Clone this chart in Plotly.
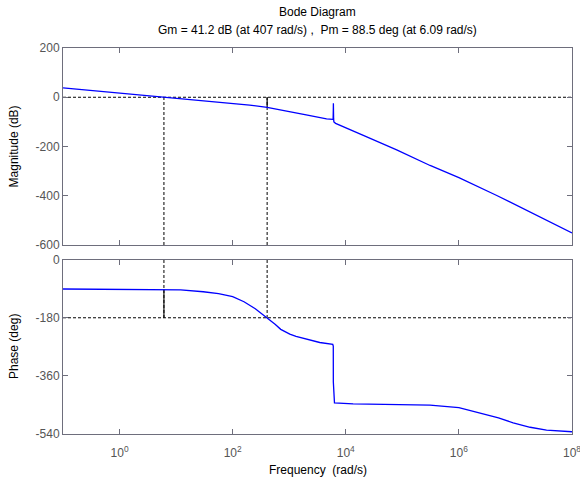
import numpy as np
import plotly.graph_objects as go

# ---- data ----
mag_logw = [-1.0, -0.48, 0.13, 0.785, 1.30, 1.894, 2.3, 2.61, 2.85, 3.07, 3.30, 3.50, 3.66,
            3.77, 3.776, 3.779, 3.781, 3.783, 3.785, 3.79, 3.82, 4.31, 4.90, 5.49, 6.0,
            6.67, 7.26, 8.0]
mag_db = [38, 27, 14, 0, -10.8, -24, -32, -41.2, -50, -61, -72, -81, -88,
          -90, -88, -55, -24, -70, -88, -100, -106, -155, -214, -277, -326,
          -399, -467, -551]

ph_logw = [-1.0, 0.0, 0.785, 1.08, 1.48, 1.75, 2.0, 2.2, 2.4, 2.61, 2.75, 2.85, 3.01, 3.12,
           3.30, 3.44, 3.54, 3.77, 3.779, 3.780, 3.79, 3.80, 4.13, 5.08, 5.49, 6.0, 6.37,
           6.7, 6.96, 7.26, 7.55, 8.0]
ph_deg = [-90.3, -90.5, -91.5, -93, -99, -105, -114, -130, -152, -180, -200, -216, -231, -238,
          -246, -252, -257, -263, -268, -380, -430, -445, -448, -451, -452, -460, -476,
          -492, -507, -521, -530, -535]

gm_db = 41.2
gm_w = 407
pm_deg = 88.5
pm_w = 6.09

mag_ticks = [200, 0, -200, -400, -600]
mag_ticktext = ["200", "0", "-200", "-400", "-600"]
ph_ticks = [0, -180, -360, -540]
ph_ticktext = ["0", "-180", "-360", "-540"]
x_tickvals = [1, 1e2, 1e4, 1e6, 1e8]
x_ticktext = ["10<sup>0</sup>", "10<sup>2</sup>", "10<sup>4</sup>", "10<sup>6</sup>", "10<sup>8</sup>"]

title1 = "Bode Diagram"
title2 = "Gm = 41.2 dB (at 407 rad/s) ,  Pm = 88.5 deg (at 6.09 rad/s)"

# ---- figure ----
FONT = "Arial, Liberation Sans, sans-serif"
FRAME = "#6e6e7c"
TICKC = "#555555"
BLUE = "#0000ff"
DASH = "3px,2px"

mag_range = [-600, 200]
ph_range = [-542, 0]

w_mag = 10 ** np.array(mag_logw)
w_ph = 10 ** np.array(ph_logw)

fig = go.Figure()

# margin marker lines (magnitude)
fig.add_trace(go.Scatter(x=[pm_w, pm_w], y=[mag_range[0], 0], mode="lines",
                         line=dict(color="black", width=1, dash=DASH), xaxis="x", yaxis="y"))
fig.add_trace(go.Scatter(x=[gm_w, gm_w], y=[mag_range[0], 0], mode="lines",
                         line=dict(color="black", width=1, dash=DASH), xaxis="x", yaxis="y"))
fig.add_trace(go.Scatter(x=[gm_w, gm_w], y=[0, -gm_db], mode="lines",
                         line=dict(color="black", width=1.2), xaxis="x", yaxis="y"))
fig.add_trace(go.Scatter(x=[10 ** -1, 10 ** 8], y=[0, 0], mode="lines",
                         line=dict(color="black", width=1, dash=DASH), xaxis="x", yaxis="y"))
# margin marker lines (phase)
fig.add_trace(go.Scatter(x=[pm_w, pm_w], y=[0, -180], mode="lines",
                         line=dict(color="black", width=1, dash=DASH), xaxis="x2", yaxis="y2"))
fig.add_trace(go.Scatter(x=[gm_w, gm_w], y=[0, -180], mode="lines",
                         line=dict(color="black", width=1, dash=DASH), xaxis="x2", yaxis="y2"))
fig.add_trace(go.Scatter(x=[pm_w, pm_w], y=[-180, -180 + pm_deg], mode="lines",
                         line=dict(color="black", width=1.1), xaxis="x2", yaxis="y2"))
fig.add_trace(go.Scatter(x=[10 ** -1, 10 ** 8], y=[-180, -180], mode="lines",
                         line=dict(color="black", width=1, dash=DASH), xaxis="x2", yaxis="y2"))

# curves
fig.add_trace(go.Scatter(x=w_mag, y=mag_db, mode="lines",
                         line=dict(color=BLUE, width=1.3), xaxis="x", yaxis="y"))
fig.add_trace(go.Scatter(x=w_ph, y=ph_deg, mode="lines",
                         line=dict(color=BLUE, width=1.3), xaxis="x2", yaxis="y2"))

axis_common = dict(showgrid=False, zeroline=False, showline=True, linecolor=FRAME, linewidth=1,
                   mirror="ticks", ticks="inside", ticklen=5, tickcolor=FRAME, tickwidth=1,
                   automargin=False, ticklabeloverflow="allow",
                   tickfont=dict(family=FONT, size=12, color=TICKC))

fig.update_layout(
    width=580, height=484,
    margin=dict(l=63, r=8, t=48, b=50),
    paper_bgcolor="white", plot_bgcolor="white",
    showlegend=False,
    xaxis=dict(type="log", range=[-1, 8], domain=[0, 1], anchor="y",
               tickvals=x_tickvals, showticklabels=False, **axis_common),
    yaxis=dict(range=mag_range, domain=[0.4896, 1], anchor="x",
               tickvals=mag_ticks, ticktext=mag_ticktext, **axis_common),
    xaxis2=dict(type="log", range=[-1, 8], domain=[0, 1], anchor="y2",
                tickvals=x_tickvals, ticktext=x_ticktext, ticklabelstandoff=8, **axis_common),
    yaxis2=dict(range=ph_range, domain=[0, 0.4508], anchor="x2",
                tickvals=ph_ticks, ticktext=ph_ticktext, **axis_common),
    annotations=[
        dict(text=title1, xref="paper", yref="paper", x=0.5, y=1, xanchor="center",
             yanchor="bottom", yshift=27, showarrow=False,
             font=dict(family=FONT, size=12, color="black")),
        dict(text=title2, xref="paper", yref="paper", x=0.5, y=1, xanchor="center",
             yanchor="bottom", yshift=9, showarrow=False,
             font=dict(family=FONT, size=12, color="black")),
        dict(text="Magnitude (dB)", xref="paper", yref="paper", x=0, y=0.745,
             xanchor="center", yanchor="middle", xshift=-49, textangle=-90, showarrow=False,
             font=dict(family=FONT, size=12, color="black")),
        dict(text="Phase (deg)", xref="paper", yref="paper", x=0, y=0.2254,
             xanchor="center", yanchor="middle", xshift=-49, textangle=-90, showarrow=False,
             font=dict(family=FONT, size=12, color="black")),
        dict(text="Frequency  (rad/s)", xref="paper", yref="paper", x=0.5, y=0,
             xanchor="center", yanchor="middle", yshift=-36, showarrow=False,
             font=dict(family=FONT, size=12, color="black")),
    ],
)

fig.write_html("out.html",
               config={"displayModeBar": False},
               post_script="document.body.style.margin='0';document.body.style.overflow='hidden';")
